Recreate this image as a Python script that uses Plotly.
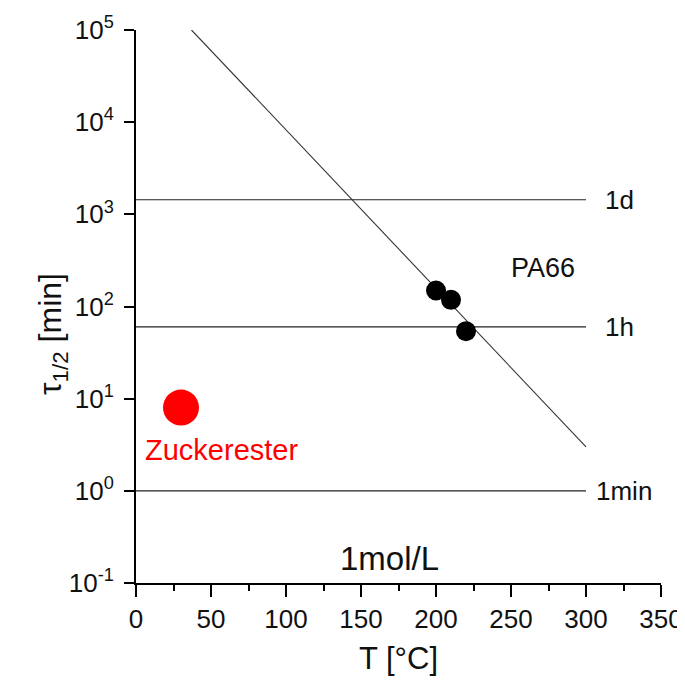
import math
import plotly.graph_objects as go

# Data
pa66_T = [200, 210, 220]
pa66_tau = [149, 118, 54]
zucker_T = [30]
zucker_tau = [8]
fit_T = [37, 300]
fit_tau = [1e5, 3]
ref_T = [0, 300]
ref_levels = [1440, 60, 1]
ref_labels = ["1d", "1h", "1min"]
ref_label_T = [311, 311, 305]
y_tickvals = [0.1, 1, 10, 100, 1000, 10000, 100000]
y_ticktext = ["10<sup>-1</sup>", "10<sup>0</sup>", "10<sup>1</sup>", "10<sup>2</sup>",
              "10<sup>3</sup>", "10<sup>4</sup>", "10<sup>5</sup>"]
x_tickvals = [0, 50, 100, 150, 200, 250, 300, 350]

FONT = "Liberation Sans, Arial, sans-serif"
TXT = "#111111"

fig = go.Figure()

for lvl in ref_levels:
    fig.add_trace(go.Scatter(x=ref_T, y=[lvl, lvl], mode="lines",
                             line=dict(color="#222222", width=1.2),
                             showlegend=False, hoverinfo="skip"))

fig.add_trace(go.Scatter(x=fit_T, y=fit_tau, mode="lines",
                         line=dict(color="#333333", width=1.1),
                         showlegend=False))

fig.add_trace(go.Scatter(x=pa66_T, y=pa66_tau, mode="markers",
                         marker=dict(color="black", size=20),
                         showlegend=False))

fig.add_trace(go.Scatter(x=zucker_T, y=zucker_tau, mode="markers",
                         marker=dict(color="#ff0000", size=36),
                         showlegend=False))

for lvl, lab, tx in zip(ref_levels, ref_labels, ref_label_T):
    fig.add_annotation(x=tx, y=math.log10(lvl), text=lab, showarrow=False, xanchor="left",
                       yanchor="middle", font=dict(size=26, color=TXT, family=FONT))

fig.add_annotation(x=271, y=math.log10(261), text="PA66", showarrow=False,
                   font=dict(size=27, color=TXT, family=FONT))
fig.add_annotation(x=57, y=math.log10(2.79), text="Zuckerester", showarrow=False,
                   font=dict(size=29, color="#ff0000", family=FONT))
fig.add_annotation(x=169, y=math.log10(0.184), text="1mol/L", showarrow=False,
                   font=dict(size=33, color=TXT, family=FONT))
fig.add_annotation(xref="paper", yref="paper", x=-0.202, y=0.451,
                   text="τ<sub>1/2</sub> [min]", textangle=-90, showarrow=False,
                   font=dict(size=32, color=TXT, family=FONT))

fig.update_layout(
    width=677, height=668,
    margin=dict(l=128, r=24, t=22, b=93),
    plot_bgcolor="white", paper_bgcolor="white",
    font=dict(family=FONT, color=TXT),
    xaxis=dict(
        range=[0, 350], tickvals=x_tickvals, showgrid=False, zeroline=False,
        automargin=False,
        showline=True, linecolor="black", linewidth=2,
        ticks="outside", ticklen=12, tickwidth=2, tickcolor="black",
        minor=dict(dtick=25, ticks="outside", ticklen=6, tickwidth=2, tickcolor="black", showgrid=False),
        tickfont=dict(size=26, family=FONT, color=TXT),
        title=dict(text="T [°C]", font=dict(size=31, family=FONT, color=TXT), standoff=22),
    ),
    yaxis=dict(
        type="log", range=[-1, 5], tickvals=y_tickvals, ticktext=y_ticktext,
        showgrid=False, zeroline=False, automargin=False,
        showline=True, linecolor="black", linewidth=2,
        ticks="outside", ticklen=10, tickwidth=2, tickcolor="black",
        ticklabelstandoff=5,
        tickfont=dict(size=26, family=FONT, color=TXT),
    ),
)

fig.write_html("out.html")
